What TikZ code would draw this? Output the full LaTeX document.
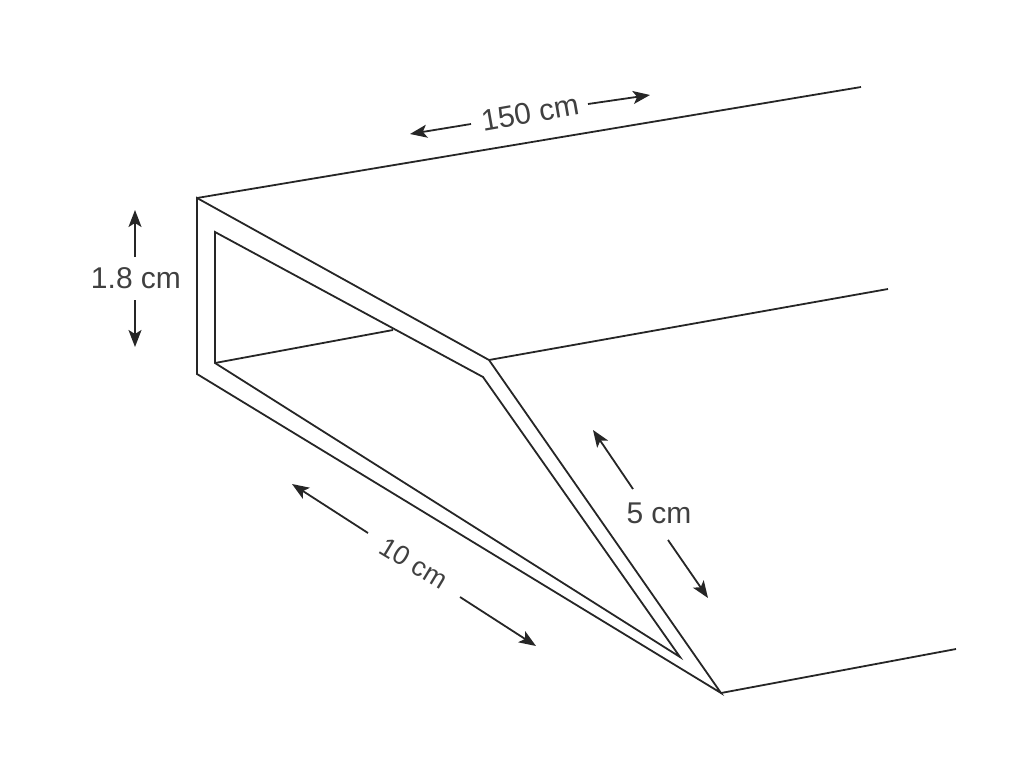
\documentclass[tikz,border=0pt]{standalone}
\usepackage{fontspec}
\setmainfont{Liberation Sans}
\usetikzlibrary{arrows.meta}
\tikzset{
  edge/.style={line width=1.8pt,black!85,line join=miter},
  dim/.style={line width=1.8pt,black!85,-{Stealth[length=17pt,width=13pt,inset=4pt]}},
  lab/.style={font=\fontsize{30}{34}\selectfont,text=black!75,inner sep=0pt},
  labsmall/.style={font=\fontsize{27}{31}\selectfont,text=black!75,inner sep=0pt}
}
\begin{document}
\begin{tikzpicture}[x=1pt,y=-1pt]
\useasboundingbox (0,0) rectangle (1024,768);
\coordinate (A) at (197,198);
\coordinate (B) at (197,374);
\coordinate (C) at (721,693);
\coordinate (D) at (489,360);
\coordinate (E) at (861,87);
\coordinate (F) at (888,289);
\coordinate (G) at (956,649);
\coordinate (a) at (215,232);
\coordinate (b) at (215,363);
\coordinate (c) at (680,657);
\coordinate (d) at (483,377);
\coordinate (m) at (393,330);
\draw[edge] (A)--(B)--(C)--(D)--cycle;
\draw[edge] (a)--(b)--(c)--(d)--cycle;
\draw[edge] (A)--(E);
\draw[edge] (D)--(F);
\draw[edge] (C)--(G);
\draw[edge] (b)--(m);
\node[lab,rotate=10] (l150) at (530,113) {150 cm};
\node[lab] (l18) at (136,278) {1.8 cm};
\node[lab] (l5) at (659,513) {5 cm};
\node[labsmall,rotate=-31] (l10) at (414,563) {10 cm};
\coordinate (p1) at (471,124);\coordinate (p1e) at (410,134);
\coordinate (p2) at (588,104);\coordinate (p2e) at (650,95);
\coordinate (p3) at (135,257);\coordinate (p3e) at (135,210);
\coordinate (p4) at (135,300);\coordinate (p4e) at (135,347);
\coordinate (p5) at (633,489);\coordinate (p5e) at (593,430);
\coordinate (p6) at (668,540);\coordinate (p6e) at (708,598);
\coordinate (p7) at (368,533);\coordinate (p7e) at (292,484);
\coordinate (p8) at (460,597);\coordinate (p8e) at (536,646);
\draw[dim] (p1)--(p1e);
\draw[dim] (p2)--(p2e);
\draw[dim] (p3)--(p3e);
\draw[dim] (p4)--(p4e);
\draw[dim] (p5)--(p5e);
\draw[dim] (p6)--(p6e);
\draw[dim] (p7)--(p7e);
\draw[dim] (p8)--(p8e);
\end{tikzpicture}
\end{document}
